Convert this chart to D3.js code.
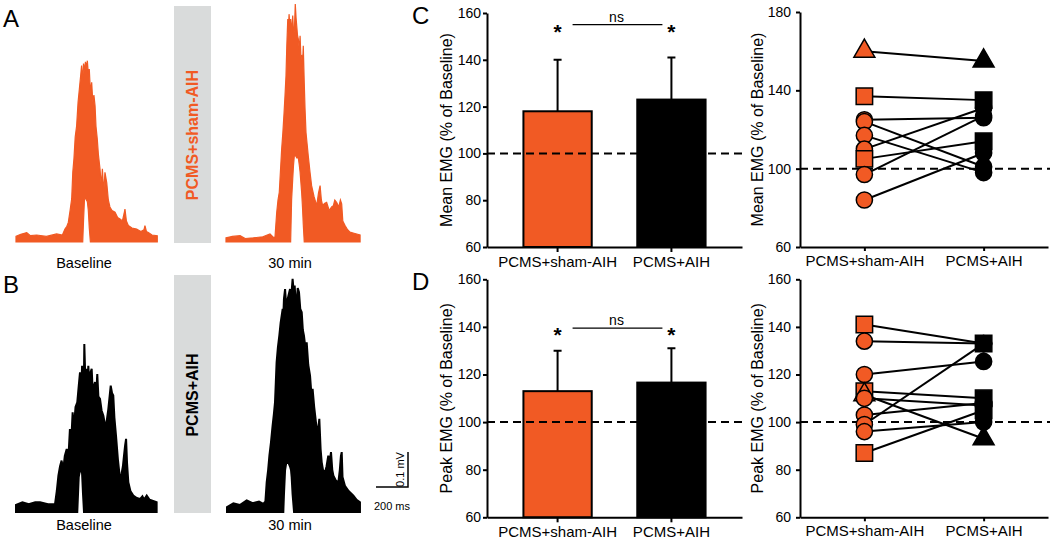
<!DOCTYPE html>
<html><head><meta charset="utf-8">
<script src="https://cdn.jsdelivr.net/npm/d3@7"></script>
<style>
html,body{margin:0;padding:0;background:#fff;}
svg{display:block;font-family:"Liberation Sans",Arial,Helvetica,sans-serif;}
</style></head><body>
<svg id="fig" width="1050" height="541"></svg>
<script>
// ---------------- DATA ----------------
const groups = ["PCMS+sham-AIH", "PCMS+AIH"];
const meanBar = [118, 123];
const meanBarErrTop = [140, 141];
const peakBar = [113, 116.6];
const peakBarErrTop = [130, 131];

const meanSham = [160, 137, 125, 124, 117, 110, 105, 97, 84];
const meanAIH  = [155, 135, 126, 101, 98, 131, 114, 127, 108];
const meanShape = ["triangle","square","circle","circle","circle","circle","square","circle","circle"];

const peakSham = [141, 134, 120, 113, 111.5, 110, 103, 99, 96, 87];
const peakAIH  = [133, 133, 125.5, 110, 93, 107, 108, 133, 100, 105];
const peakShape = ["square","circle","circle","square","triangle","circle","circle","circle","circle","square"];

const barTicks = [60, 80, 100, 120, 140, 160];
const meanDotTicks = [60, 100, 140, 180];
const peakDotTicks = [60, 80, 100, 120, 140, 160];

// EMG traces: [time ms, upper envelope mV, lower envelope mV]
const traceABase = [[0,0.016],[30,0.022],[67,0.027],[90,0.018],[129,0.020],[190,0.016],[254,0.023],[290,0.020],[306,0.037],[318,0.045],[327,0.056],[338,0.09],[348,0.123],[355,0.20],[362,0.237],[370,0.30],[379,0.332],[388,0.40],[396,0.437],[403,0.47],[410,0.504],[417,0.46,0],[422,0.51,0.06],[428,0.49,0.123],[434,0.515,0.125],[440,0.50,0.12],[446,0.518,0.115],[452,0.48,0.09],[458,0.494,0.04],[465,0.43,0],[473,0.456],[480,0.40],[487,0.42],[494,0.390],[500,0.33],[508,0.294],[515,0.25],[525,0.209],[533,0.16],[540,0.209],[548,0.14],[556,0.199],[567,0.17],[577,0.12],[587,0.10],[600,0.09],[619,0.085],[635,0.07],[650,0.066],[665,0.06],[675,0.08],[681,0.094],[690,0.06],[702,0.047],[725,0.04],[754,0.037],[780,0.03],[800,0.035],[806,0.047],[815,0.03],[827,0.027],[850,0.02],[883,0.018]];
const traceA30 = [[0,0.012],[40,0.016],[88,0.018],[120,0.01],[171,0.012],[230,0.015],[275,0.023],[295,0.014],[306,0.013],[317,0.085],[325,0.12],[333,0.142],[340,0.20],[348,0.266],[355,0.31],[363,0.370],[369,0.42],[375,0.475],[380,0.56],[386,0.637],[390,0.60],[394,0.651],[399,0.62],[404,0.637,0],[410,0.60,0.12],[417,0.647,0.18],[422,0.60,0.22],[427,0.599,0.246],[433,0.680,0.246],[438,0.64,0.245],[442,0.618,0.24],[447,0.59,0.24],[452,0.580,0.24],[458,0.55,0.22],[463,0.589,0.2],[468,0.53,0.17],[473,0.532,0.14],[478,0.50,0.10],[483,0.561,0.05],[489,0.456,0],[494,0.38],[500,0.313],[507,0.28],[514,0.247],[525,0.20],[535,0.161],[550,0.13],[567,0.104],[578,0.14],[588,0.161],[596,0.12],[604,0.104],[615,0.11],[629,0.113],[645,0.09],[660,0.10],[671,0.104],[680,0.12],[692,0.113],[705,0.10],[715,0.12],[723,0.109],[730,0.06],[744,0.047],[760,0.035],[775,0.028],[800,0.025],[838,0.02]];
const traceBBase = [[0,0.02],[40,0.028],[80,0.022],[120,0.028],[150,0.028],[200,0.022],[244,0.023],[255,0.06],[265,0.104],[275,0.13],[285,0.147],[295,0.12],[305,0.16],[317,0.180],[327,0.15],[337,0.237],[345,0.20],[354,0.285],[362,0.24],[372,0.30],[383,0.313,0],[392,0.36,0.1],[400,0.399,0.12],[408,0.35,0.12],[413,0.418,0.11],[419,0.38,0.05],[425,0.40,0],[427,0.480],[432,0.40],[438,0.409],[445,0.36],[452,0.418],[460,0.36],[467,0.40],[473,0.409],[480,0.34],[487,0.36],[494,0.371],[500,0.33],[508,0.394],[515,0.33],[525,0.323],[535,0.29],[546,0.275],[556,0.25],[563,0.247],[570,0.27],[577,0.294],[585,0.33],[592,0.361],[600,0.34],[608,0.333],[615,0.27],[625,0.218],[637,0.15],[650,0.094],[660,0.11],[668,0.13],[675,0.161],[682,0.19],[688,0.209],[694,0.14],[702,0.085],[715,0.06],[733,0.047],[755,0.04],[775,0.037],[790,0.045],[800,0.035],[817,0.047],[835,0.035],[879,0.028]];
const traceB30 = [[0,0.014],[40,0.025],[80,0.02],[123,0.033],[160,0.025],[200,0.03],[227,0.023],[240,0.03],[248,0.085],[257,0.12],[265,0.161],[275,0.20],[285,0.247],[293,0.28],[300,0.313],[305,0.37],[310,0.428],[318,0.47],[327,0.504],[335,0.54],[348,0.580],[352,0.56,0],[356,0.61,0.05],[363,0.637,0.12],[370,0.59,0.14],[377,0.604,0.14],[385,0.62,0.14],[394,0.637,0.13],[400,0.60,0.12],[404,0.63,0.10],[410,0.666,0.05],[419,0.62,0],[423,0.647],[429,0.6],[435,0.599],[442,0.64],[450,0.628],[458,0.58],[467,0.571],[474,0.52],[481,0.504],[490,0.47],[498,0.485],[508,0.42],[519,0.390],[527,0.34],[535,0.352],[545,0.30],[556,0.256],[566,0.22],[577,0.266],[585,0.18],[592,0.142],[600,0.12],[612,0.113],[622,0.13],[633,0.161],[641,0.14],[650,0.171],[658,0.12],[665,0.104],[680,0.09],[696,0.085],[705,0.12],[712,0.16],[717,0.171],[722,0.10],[737,0.075],[760,0.06],[790,0.047],[810,0.035],[831,0.028]];
const scaleBarMs = 200;
const scaleBarMv = 0.1;

// ---------------- STYLE ----------------
const ORANGE = "#f15a24";
const GRAY = "#d9dbdb";
const svg = d3.select("#fig");

// ---------------- TRACES ----------------
function traceScales(x0, base) {
  return {
    x: d3.scaleLinear().domain([0, 200]).range([x0, x0 + 32]),
    y: d3.scaleLinear().domain([0, 0.1]).range([base, base - 35])
  };
}
function drawTrace(data, x0, base, color, sw) {
  const s = traceScales(x0, base);
  const area = d3.area().x(d => s.x(d[0])).y0(d => s.y(d[2] || 0)).y1(d => s.y(d[1]));
  svg.append("path").attr("d", area(data)).attr("fill", color)
    .attr("stroke", color).attr("stroke-width", sw).attr("stroke-linejoin", "miter");
}
drawTrace(traceABase, 16, 242, ORANGE, 1.2);
drawTrace(traceA30, 226, 242, ORANGE, 1.2);
drawTrace(traceBBase, 16, 512, "#000", 2);
drawTrace(traceB30, 227, 512, "#000", 2);

// gray condition bars
svg.append("rect").attr("x", 174).attr("y", 6).attr("width", 37).attr("height", 237).attr("fill", GRAY);
svg.append("rect").attr("x", 174).attr("y", 275).attr("width", 37).attr("height", 238).attr("fill", GRAY);
svg.append("text").attr("transform", "translate(198,135) rotate(-90)").attr("text-anchor", "middle")
  .attr("font-size", 16).attr("font-weight", "bold").attr("fill", ORANGE).text(groups[0]);
svg.append("text").attr("transform", "translate(198,395) rotate(-90)").attr("text-anchor", "middle")
  .attr("font-size", 16).attr("font-weight", "bold").attr("fill", "#000").text(groups[1]);

// trace labels
[["Baseline", 84, 268], ["30 min", 290, 268], ["Baseline", 84, 530], ["30 min", 290, 530]].forEach(l => {
  svg.append("text").attr("x", l[1]).attr("y", l[2]).attr("text-anchor", "middle")
    .attr("font-size", 14.5).text(l[0]);
});

// scale bar
(function () {
  const s = traceScales(376, 487);
  svg.append("path").attr("fill", "none").attr("stroke", "#000").attr("stroke-width", 1.5)
    .attr("d", `M${s.x(0)},${s.y(0)}H${s.x(scaleBarMs)}V${s.y(scaleBarMv)}`);
  svg.append("text").attr("transform", `translate(${s.x(scaleBarMs) - 4},${(s.y(0) + s.y(scaleBarMv)) / 2}) rotate(-90)`)
    .attr("text-anchor", "middle").attr("font-size", 11).text(scaleBarMv + " mV");
  svg.append("text").attr("x", (s.x(0) + s.x(scaleBarMs)) / 2).attr("y", 510)
    .attr("text-anchor", "middle").attr("font-size", 11).text(scaleBarMs + " ms");
})();

// panel letters
[["A", 3, 27], ["B", 3, 293], ["C", 412, 24], ["D", 412, 290]].forEach(l => {
  svg.append("text").attr("x", l[1]).attr("y", l[2]).attr("font-size", 24).text(l[0]);
});

// ---------------- AXIS STYLING ----------------
function styleAxis(g) {
  g.selectAll("path.domain").attr("stroke", "#000").attr("stroke-width", 2);
  g.selectAll(".tick line").attr("stroke", "#000").attr("stroke-width", 2);
  g.selectAll(".tick text").attr("fill", "#000").attr("font-family", "Liberation Sans, Arial, sans-serif");
}

// ---------------- BAR PANELS ----------------
function barPanel(top, bottom, values, errTop, ticks, title, annot) {
  const y = d3.scaleLinear().domain([60, 160]).range([bottom, top]);
  const x = d3.scaleBand().domain(groups).range([487, 742]).paddingInner(0.4).paddingOuter(0.32);
  const g = svg.append("g");
  // bars
  g.selectAll("rect.bar").data(groups).enter().append("rect")
    .attr("x", d => x(d)).attr("width", x.bandwidth())
    .attr("y", (d, i) => y(values[i])).attr("height", (d, i) => y(60) - y(values[i]))
    .attr("fill", (d, i) => i === 0 ? ORANGE : "#000").attr("stroke", "#000").attr("stroke-width", 2);
  // error bars
  groups.forEach((d, i) => {
    const cx = x(d) + x.bandwidth() / 2;
    g.append("path").attr("stroke", "#000").attr("stroke-width", 2).attr("fill", "none")
      .attr("d", `M${cx},${y(values[i])}V${y(errTop[i])}M${cx - 4},${y(errTop[i])}H${cx + 4}`);
  });
  // dashed 100 line
  g.append("line").attr("x1", 487).attr("x2", 742).attr("y1", y(100)).attr("y2", y(100))
    .attr("stroke", "#000").attr("stroke-width", 2).attr("stroke-dasharray", "8,5");
  // axes
  const ya = g.append("g").attr("transform", "translate(487,0)")
    .call(d3.axisLeft(y).tickValues(ticks).tickSize(4).tickSizeOuter(0).tickPadding(2));
  ya.selectAll("text").attr("font-size", 14);
  styleAxis(ya);
  const xa = g.append("g").attr("transform", `translate(0,${y(60)})`)
    .call(d3.axisBottom(x).tickSize(5).tickSizeOuter(0).tickPadding(4));
  xa.selectAll("text").attr("font-size", 15);
  styleAxis(xa);
  // title
  g.append("text").attr("transform", `translate(452,${(top + bottom) / 2}) rotate(-90)`)
    .attr("text-anchor", "middle").attr("font-size", 16).text(title);
  // significance
  const c0 = x(groups[0]) + x.bandwidth() / 2, c1 = x(groups[1]) + x.bandwidth() / 2;
  const ay = y(annot);
  [c0, c1].forEach(cx => g.append("text").attr("x", cx).attr("y", ay + 14).attr("text-anchor", "middle")
    .attr("font-size", 21).attr("font-weight", "bold").text("*"));
  g.append("line").attr("x1", c0 + 15).attr("x2", c1 - 9).attr("y1", ay).attr("y2", ay)
    .attr("stroke", "#000").attr("stroke-width", 1.3);
  g.append("text").attr("x", (c0 + c1) / 2 + 2).attr("y", ay - 3).attr("text-anchor", "middle")
    .attr("font-size", 14).text("ns");
}
barPanel(13, 247, meanBar, meanBarErrTop, barTicks, "Mean EMG (% of Baseline)", 155);
barPanel(279.3, 517.3, peakBar, peakBarErrTop, barTicks, "Peak EMG (% of Baseline)", 139.5);

// ---------------- PAIRED DOT PANELS ----------------
const symbolType = {circle: d3.symbolCircle, square: d3.symbolSquare, triangle: d3.symbolTriangle};
const symbolSize = {circle: 205, square: 270, triangle: 190};
function dotPanel(top, bottom, domainTop, sham, aih, shapes, ticks, title) {
  const y = d3.scaleLinear().domain([60, domainTop]).range([bottom, top]);
  const x = d3.scalePoint().domain(groups).range([800, 1048]).padding(0.54);
  const g = svg.append("g");
  g.append("line").attr("x1", 800).attr("x2", 1050).attr("y1", y(100)).attr("y2", y(100))
    .attr("stroke", "#000").attr("stroke-width", 2).attr("stroke-dasharray", "8,5");
  const ya = g.append("g").attr("transform", "translate(800,0)")
    .call(d3.axisLeft(y).tickValues(ticks).tickSize(4).tickSizeOuter(0).tickPadding(5));
  ya.selectAll("text").attr("font-size", 14);
  styleAxis(ya);
  const xa = g.append("g").attr("transform", `translate(0,${y(60)})`)
    .call(d3.axisBottom(x).tickSize(4).tickSizeOuter(0).tickPadding(4));
  xa.selectAll("text").attr("font-size", 15);
  styleAxis(xa);
  g.append("text").attr("transform", `translate(763,${(top + bottom) / 2}) rotate(-90)`)
    .attr("text-anchor", "middle").attr("font-size", 16).text(title);
  // connecting lines
  sham.forEach((v, i) => {
    g.append("line").attr("x1", x(groups[0])).attr("x2", x(groups[1]))
      .attr("y1", y(v)).attr("y2", y(aih[i])).attr("stroke", "#000").attr("stroke-width", 2);
  });
  // markers
  sham.forEach((v, i) => {
    g.append("path").attr("d", d3.symbol().type(symbolType[shapes[i]]).size(symbolSize[shapes[i]])())
      .attr("transform", `translate(${x(groups[0])},${y(v)})`)
      .attr("fill", ORANGE).attr("stroke", "#000").attr("stroke-width", 1.5);
  });
  aih.forEach((v, i) => {
    g.append("path").attr("d", d3.symbol().type(symbolType[shapes[i]]).size(symbolSize[shapes[i]])())
      .attr("transform", `translate(${x(groups[1])},${y(v)})`)
      .attr("fill", "#000").attr("stroke", "#000").attr("stroke-width", 1.5);
  });
}
dotPanel(12, 247, 180, meanSham, meanAIH, meanShape, meanDotTicks, "Mean EMG (% of Baseline)");
dotPanel(279.3, 517.3, 160, peakSham, peakAIH, peakShape, peakDotTicks, "Peak EMG (% of Baseline)");
</script>
</body></html>
